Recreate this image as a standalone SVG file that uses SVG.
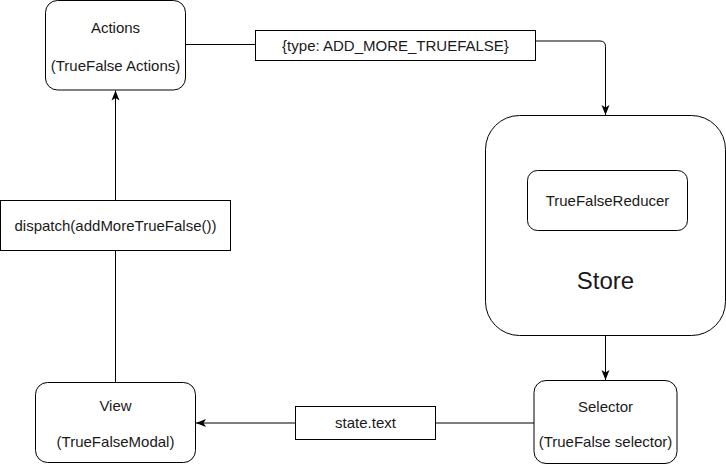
<svg xmlns="http://www.w3.org/2000/svg" width="726" height="466" viewBox="0 0 726 466">
<style>
.box{fill:#fff;stroke:#000;stroke-width:1}
.t{font-family:"Liberation Sans",Arial,sans-serif;font-size:15px;fill:#1a1a1a;text-anchor:middle}
.big{font-size:24px}
.edge{fill:none;stroke:#000;stroke-width:1}
</style>
<defs>
<marker id="arr" viewBox="0 0 10 10" refX="10" refY="5" markerWidth="10" markerHeight="10" markerUnits="userSpaceOnUse" orient="auto">
<path d="M0,1 L10,5 L0,9 L2.5,5 Z" fill="#000"/>
</marker>
</defs>
<rect width="726" height="466" fill="#fff"/>
<g id="connectors">
<path class="edge" d="M186,44.5 L256,44.5"/>
<path class="edge" d="M536,41 L600,41 Q605.5,41 605.5,46.5 L605.5,115" marker-end="url(#arr)"/>
<path class="edge" d="M605.5,336 L605.5,380" marker-end="url(#arr)"/>
<path class="edge" d="M534,423 L436,423"/>
<path class="edge" d="M295,423 L196,423" marker-end="url(#arr)"/>
<path class="edge" d="M115.5,383 L115.5,251"/>
<path class="edge" d="M115.5,200 L115.5,90.5" marker-end="url(#arr)"/>
</g>
<g id="actions">
<rect class="box" x="45.5" y="0.5" width="140" height="89.5" rx="12"/>
<text class="t" x="115.5" y="33">Actions</text>
<text class="t" x="115.5" y="70.5">(TrueFalse Actions)</text>
</g>
<g id="label-type">
<rect class="box" x="255.5" y="30.5" width="280" height="30"/>
<text class="t" x="395.5" y="51">{type: ADD_MORE_TRUEFALSE}</text>
</g>
<g id="store">
<rect class="box" x="485.5" y="115.5" width="240" height="220" rx="34"/>
<text class="t big" x="605.5" y="289">Store</text>
</g>
<g id="reducer">
<rect class="box" x="527.5" y="170.5" width="160" height="60" rx="10"/>
<text class="t" x="607.5" y="206">TrueFalseReducer</text>
</g>
<g id="selector">
<rect class="box" x="534" y="380.5" width="143" height="83" rx="12"/>
<text class="t" x="605.5" y="411.5">Selector</text>
<text class="t" x="605.5" y="447">(TrueFalse selector)</text>
</g>
<g id="label-state">
<rect class="box" x="295.5" y="406.5" width="140" height="33"/>
<text class="t" x="365.5" y="428">state.text</text>
</g>
<g id="view">
<rect class="box" x="35.5" y="382.5" width="160" height="80" rx="12"/>
<text class="t" x="115.5" y="411">View</text>
<text class="t" x="115.5" y="447">(TrueFalseModal)</text>
</g>
<g id="label-dispatch">
<rect class="box" x="0.5" y="200.5" width="230" height="50"/>
<text class="t" x="115.5" y="230.5">dispatch(addMoreTrueFalse())</text>
</g>
</svg>
